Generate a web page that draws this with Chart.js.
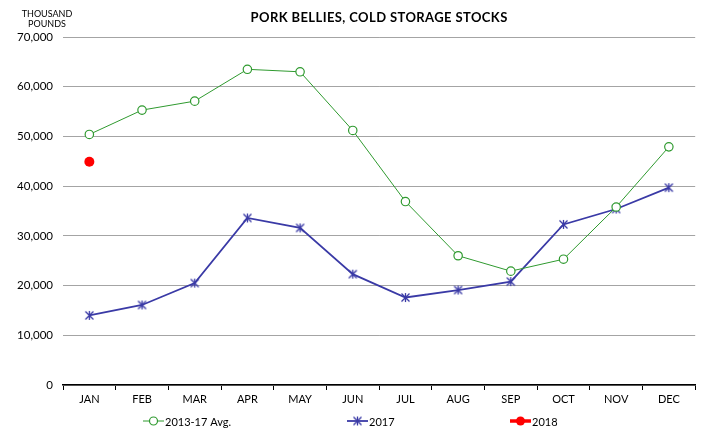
<!DOCTYPE html>
<html>
<head>
<meta charset="utf-8">
<script src="https://cdn.jsdelivr.net/npm/chart.js@4"></script>
<style>
  html, body { margin: 0; padding: 0; background: #fff; }
  #wrap { width: 701px; height: 428px; }
</style>
</head>
<body>
<div id="wrap"><canvas id="myChart" width="701" height="428"></canvas></div>
<script>
const ctx = document.getElementById('myChart');

// data (thousand pounds)
var months = ['JAN', 'FEB', 'MAR', 'APR', 'MAY', 'JUN', 'JUL', 'AUG', 'SEP', 'OCT', 'NOV', 'DEC'];
var avgData = [50400, 55300, 57100, 63500, 63000, 51200, 36900, 26000, 22900, 25300, 35800, 47900];
var data2017 = [14000, 16100, 20500, 33600, 31600, 22300, 17600, 19100, 20800, 32300, 35400, 39700];
var data2018 = [44900, null, null, null, null, null, null, null, null, null, null, null];
var seriesNames = ['2013-17 Avg.', '2017', '2018'];
var chartTitle = 'PORK BELLIES, COLD STORAGE STOCKS';

var FONT = 'Lato, "Liberation Sans", sans-serif';
var GREEN = '#2f9a2f';
var BLUE = '#3a3aa6';
var RED = '#ff0000';

// x marker with a vertical stroke (like the spreadsheet "star" marker)
function starMarker(color) {
  var c = document.createElement('canvas');
  c.width = 11; c.height = 11;
  var g = c.getContext('2d');
  g.strokeStyle = color;
  g.lineWidth = 1.3;
  g.beginPath();
  g.moveTo(1.5, 1.5); g.lineTo(9.5, 9.5);
  g.moveTo(9.5, 1.5); g.lineTo(1.5, 9.5);
  g.moveTo(5.5, 1); g.lineTo(5.5, 10);
  g.stroke();
  return c;
}
var blueStar = starMarker(BLUE);

// title, unit label + legend drawn on the canvas
var extras = {
  id: 'extras',
  afterDraw: function (chart) {
    var c = chart.ctx;
    c.save();
    c.fillStyle = '#000';
    c.textAlign = 'center';
    c.textBaseline = 'middle';

    c.font = 'bold 13px ' + FONT;
    c.letterSpacing = '0.4px';
    c.fillText(chartTitle, (chart.chartArea.left + chart.chartArea.right) / 2, 18);
    c.letterSpacing = '0px';

    c.font = '9px ' + FONT;
    c.fillText('THOUSAND', 47, 14);
    c.fillText('POUNDS', 47, 24);

    // legend
    var y = 421;
    var starts = [143, 347, 510];
    c.font = '11px ' + FONT;
    c.textAlign = 'left';
    chart.data.datasets.forEach(function (ds, i) {
      var x = starts[i];
      c.strokeStyle = ds.borderColor;
      c.lineWidth = ds.borderWidth;
      c.beginPath();
      c.moveTo(x, y); c.lineTo(x + 21, y);
      c.stroke();
      var mx = x + 10.5;
      if (i === 0) {
        c.fillStyle = '#fff';
        c.lineWidth = 1.2;
        c.beginPath(); c.arc(mx, y, 4, 0, Math.PI * 2); c.fill(); c.stroke();
      } else if (i === 1) {
        c.drawImage(blueStar, mx - 5.5, y - 5.5);
      } else {
        c.fillStyle = RED;
        c.beginPath(); c.arc(mx, y, 4.5, 0, Math.PI * 2); c.fill();
      }
      c.fillStyle = '#000';
      c.fillText(ds.label, x + 22, y + 1);
    });
    c.restore();
  }
};

new Chart(ctx, {
  type: 'line',
  data: {
    labels: months,
    datasets: [{
      label: seriesNames[0],
      data: avgData,
      borderColor: GREEN,
      borderWidth: 1,
      pointStyle: 'circle',
      pointRadius: 4.2,
      pointBorderWidth: 1.2,
      pointBackgroundColor: '#fff',
      pointBorderColor: GREEN,
      tension: 0
    }, {
      label: seriesNames[1],
      data: data2017,
      borderColor: BLUE,
      borderWidth: 1.8,
      pointStyle: blueStar,
      pointBorderColor: BLUE,
      tension: 0
    }, {
      label: seriesNames[2],
      data: data2018,
      borderColor: RED,
      borderWidth: 3.5,
      pointStyle: 'circle',
      pointRadius: 5,
      pointBackgroundColor: RED,
      pointBorderColor: RED,
      pointBorderWidth: 0
    }]
  },
  options: {
    responsive: false,
    animation: false,
    devicePixelRatio: 1,
    layout: { padding: { left: 0, right: 0, top: 37, bottom: 20 } },
    plugins: {
      legend: { display: false },
      tooltip: { enabled: false },
      title: { display: false }
    },
    scales: {
      x: {
        offset: true,
        afterFit: function (s) { s.height = 23; },
        grid: { offset: true, drawOnChartArea: false, drawTicks: true, tickLength: 5, color: '#000', lineWidth: 1 },
        border: { display: true, color: '#000', width: 1.5 },
        ticks: { color: '#000', font: { family: FONT, size: 11 }, padding: 3, maxRotation: 0 }
      },
      y: {
        min: 0,
        max: 70000,
        afterFit: function (s) { s.width = 63; },
        grid: { color: '#a4a4a4', lineWidth: 1, drawTicks: false },
        border: { display: false },
        ticks: {
          stepSize: 10000,
          color: '#000',
          padding: 10,
          font: { family: FONT, size: 11.5 },
          callback: function (v) { return v.toLocaleString('en-US'); }
        }
      }
    }
  },
  plugins: [extras]
});
</script>
</body>
</html>
